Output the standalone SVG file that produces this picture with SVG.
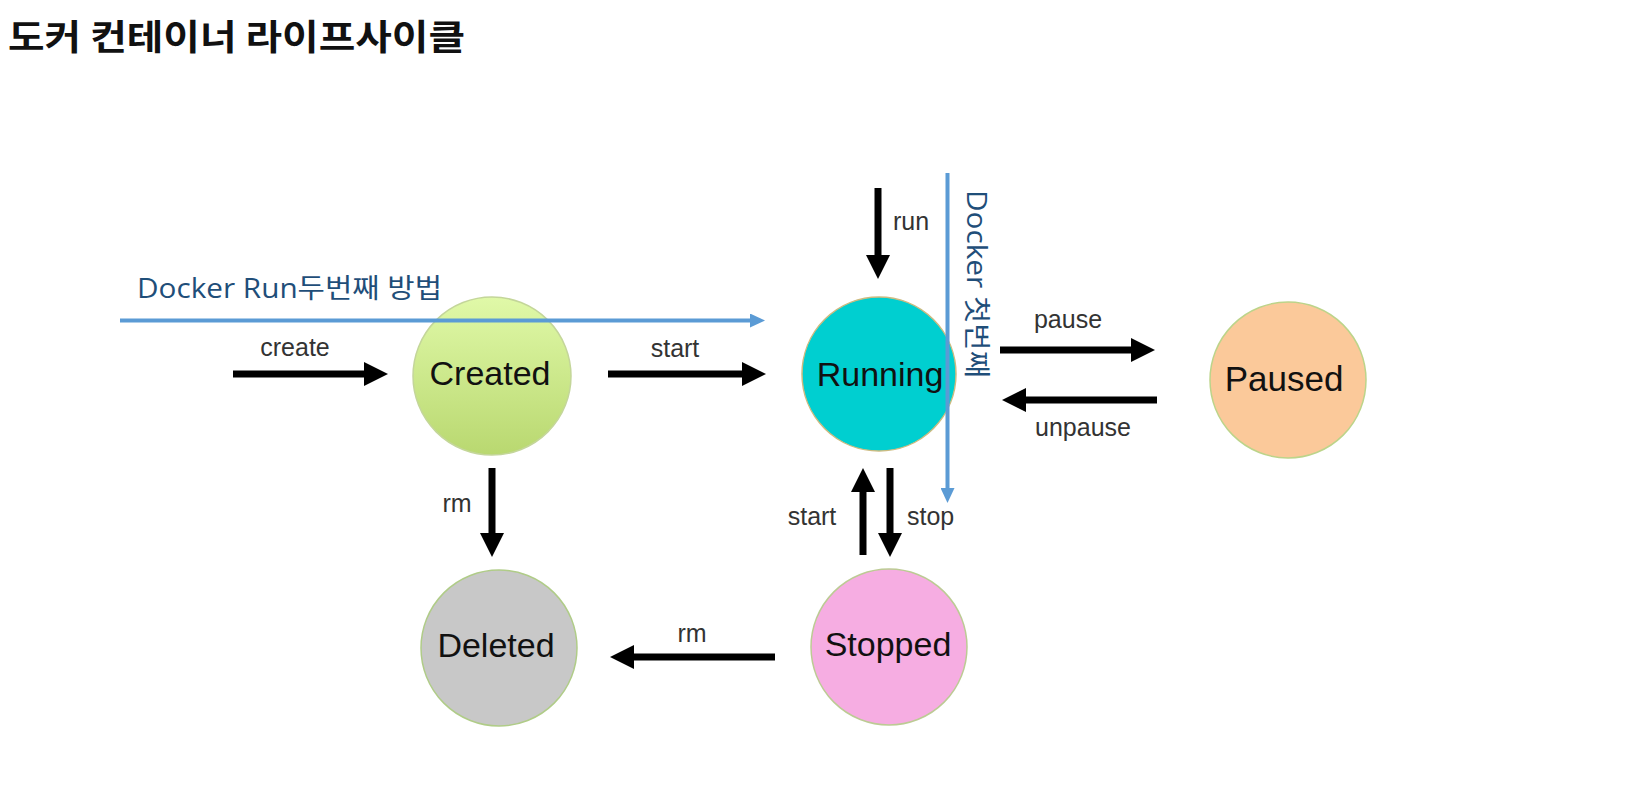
<svg xmlns="http://www.w3.org/2000/svg" width="1626" height="806" viewBox="0 0 1626 806">
<style>
.title{font-family:"Noto Sans CJK KR","Liberation Sans",sans-serif;font-weight:700;font-size:35px;fill:#111}
.node{font-family:"Liberation Sans",Arial,sans-serif;font-size:34px;fill:#111;text-anchor:middle}
.lbl{font-family:"Liberation Sans",Arial,sans-serif;font-size:25px;fill:#333}
.mid{text-anchor:middle}
.note{font-family:"Open Sans","Noto Sans CJK KR",sans-serif;font-size:27px;fill:#1f4e79}
.arr{stroke:#000;stroke-width:7;fill:none;marker-end:url(#bh)}
.blue{stroke:#5b9bd5;stroke-width:4;fill:none;marker-end:url(#bl)}
circle{stroke-width:1.5}
</style>
<defs>
<marker id="bh" markerUnits="userSpaceOnUse" markerWidth="24" markerHeight="24" refX="12" refY="12" orient="auto">
<path d="M0,0 L24,12 L0,24 z" fill="#000"/>
</marker>
<marker id="bl" markerUnits="userSpaceOnUse" markerWidth="15" markerHeight="14" refX="7" refY="7" orient="auto">
<path d="M0,0 L15,7 L0,14 z" fill="#5b9bd5"/>
</marker>
<linearGradient id="gCreated" x1="0" y1="0" x2="0" y2="1">
<stop offset="0" stop-color="#e0f9a8"/>
<stop offset="1" stop-color="#b9d870"/>
</linearGradient>
</defs>
<rect width="1626" height="806" fill="#fff"/>
<text class="title" x="8" y="50" textLength="457" lengthAdjust="spacingAndGlyphs">도커 컨테이너 라이프사이클</text>

<g id="connectors">
<line class="arr" x1="233" y1="374" x2="376" y2="374"/>
<line class="arr" x1="608" y1="374" x2="754" y2="374"/>
<line class="arr" x1="878" y1="188" x2="878" y2="267"/>
<line class="arr" x1="1000" y1="350" x2="1143" y2="350"/>
<line class="arr" x1="1157" y1="400" x2="1014" y2="400"/>
<line class="arr" x1="492" y1="468" x2="492" y2="545"/>
<line class="arr" x1="863" y1="555" x2="863" y2="480"/>
<line class="arr" x1="890" y1="468" x2="890" y2="545"/>
<line class="arr" x1="775" y1="657" x2="622" y2="657"/>
<text class="lbl mid" x="295" y="356">create</text>
<text class="lbl mid" x="675" y="357">start</text>
<text class="lbl" x="893" y="230">run</text>
<text class="lbl mid" x="1068" y="328">pause</text>
<text class="lbl mid" x="1083" y="436">unpause</text>
<text class="lbl mid" x="457" y="512">rm</text>
<text class="lbl mid" x="812" y="525">start</text>
<text class="lbl" x="907" y="525">stop</text>
<text class="lbl mid" x="692" y="642">rm</text>
</g>

<g id="created">
<circle cx="492" cy="376" r="79" fill="url(#gCreated)" stroke="#c4d69a"/>
<text class="node" x="490" y="385">Created</text>
</g>
<g id="running">
<circle cx="879" cy="374" r="77" fill="#00cfd0" stroke="#cdbb80"/>
<text class="node" x="880" y="386">Running</text>
</g>
<g id="paused">
<circle cx="1288" cy="380" r="78" fill="#fbc99a" stroke="#bcd48a"/>
<text class="node" x="1284" y="391" style="font-size:35px">Paused</text>
</g>
<g id="deleted">
<circle cx="499" cy="648" r="78" fill="#c8c8c8" stroke="#b0cc88"/>
<text class="node" x="496" y="657">Deleted</text>
</g>
<g id="stopped">
<circle cx="889" cy="647" r="78" fill="#f6ade2" stroke="#bccb94"/>
<text class="node" x="888" y="656">Stopped</text>
</g>

<g id="annotations">
<line class="blue" x1="120" y1="320.5" x2="757" y2="320.5"/>
<text class="note" x="137" y="298" textLength="305" lengthAdjust="spacingAndGlyphs">Docker Run두번째 방법</text>
<line class="blue" x1="947.5" y1="173" x2="947.5" y2="495"/>
<text class="note" transform="translate(967,190) rotate(90)" x="0" y="0" textLength="188" lengthAdjust="spacingAndGlyphs">Docker 첫번째</text>
</g>
</svg>
